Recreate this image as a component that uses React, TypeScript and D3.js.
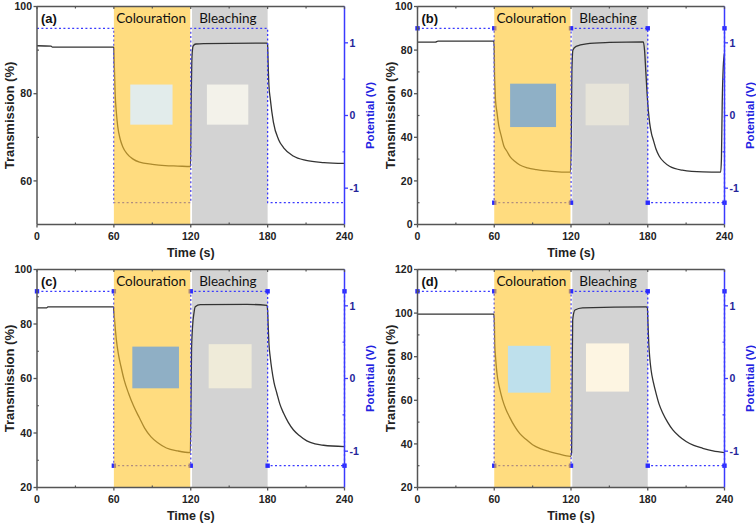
import React from 'react';
import * as d3 from 'd3';

// ---------- data ----------
const timeTicks = [0, 60, 120, 180, 240];
const timeMinor = [30, 90, 150, 210];
const potTicks = [-1, 0, 1];
const potTime = [0, 60, 60, 120, 120, 180, 180, 240, 240];
const potValue = [1.2, 1.2, -1.2, -1.2, 1.2, 1.2, -1.2, -1.2, 1.2];
const colourWindow = [60, 119.6];
const bleachWindow = [121, 180];
const phaseLabels = ['Colouration', 'Bleaching'];
const panelLabels = ['(a)', '(b)', '(c)', '(d)'];

const transA: [number, number][] = [
  [0, 91.0], [11, 90.9], [12, 90.7], [59.7, 90.7], [60, 90.5], [60.3, 87], [61, 80], [62, 75.5],
  [63, 72.5], [65, 69.5], [67, 67.8], [70, 66.3], [75, 65], [80, 64.3], [90, 63.8], [100, 63.5],
  [110, 63.4], [119.8, 63.3], [120.1, 70], [120.4, 80], [120.8, 87], [121.3, 90], [122, 91],
  [124, 91.4], [130, 91.5], [179.7, 91.6], [180, 91.2], [180.4, 87], [181, 82], [182, 79],
  [184.5, 73.5], [188.5, 69.5], [192.5, 67.6], [200, 65.7], [210, 64.7], [224, 64.2], [240, 64.0],
];
const transB: [number, number][] = [
  [0, 83.7], [14, 83.7], [16, 84.1], [59.6, 84.1], [60, 82], [60.2, 70], [60.6, 63], [61, 57],
  [62, 52], [63.5, 45.5], [65.5, 40.5], [67.5, 36], [70, 33.5], [72.5, 31], [76, 29], [80, 27.3],
  [86, 26], [93, 25.2], [105, 24.4], [119.5, 24.0], [120.2, 40], [120.7, 70], [121.5, 80],
  [124, 81.7], [132, 82.9], [150, 83.5], [176.5, 83.8], [177.5, 80], [178.5, 70], [179.5, 60],
  [180.5, 52], [181.5, 46.5], [183, 41.5], [184.5, 38.5], [186.5, 34.5], [189, 31.3], [193, 28.5],
  [197, 26.7], [207, 24.9], [223, 24.1], [237, 24.0], [237.6, 30], [238.2, 55], [239, 72], [240, 78.6],
];
const transC: [number, number][] = [
  [0, 85.9], [7.5, 85.9], [8.5, 86.3], [59.7, 86.3], [60, 85], [60.3, 83], [61, 79], [62, 74],
  [63.5, 69], [65.5, 64.5], [68, 59.5], [71.5, 54.5], [75.5, 49.8], [80, 45.5], [84, 41.8],
  [89, 38.6], [94, 36.5], [101, 34.5], [110, 33.4], [119.6, 32.8], [120.1, 45], [120.6, 70],
  [121.4, 79], [122.5, 84], [123.5, 86.3], [127.4, 87.1], [164, 87.2], [179.5, 86.8], [180, 85],
  [180.4, 80], [181, 73], [182, 68], [183.3, 63.2], [185, 58.5], [187.2, 54.6], [189.5, 50.7],
  [192.4, 47.3], [196, 44], [200.2, 41.1], [205, 39], [210.6, 37.1], [217, 36], [223.6, 35.5], [240, 35.0],
];
const transD: [number, number][] = [
  [0, 99.5], [59.7, 99.5], [60, 98], [60.15, 95], [60.4, 86], [61, 80], [62, 73], [64, 66],
  [66.5, 60.2], [69, 56], [72, 52.3], [76, 48], [80, 44.7], [85, 42], [90, 39.6], [96, 37.8],
  [103, 36.5], [110, 35.4], [119.5, 34.3], [120.5, 36], [120.9, 70], [121.3, 96.8], [123.1, 101.4],
  [129, 102.4], [178.7, 102.9], [179.7, 102.5], [180.2, 95], [180.8, 86.1], [181.5, 80],
  [182.6, 73.9], [184.5, 68], [186.5, 63.2], [189, 58], [191.8, 54.1], [195.5, 50], [199.6, 46.4],
  [204.5, 43.5], [210, 41.1], [216, 39.3], [223, 38], [231, 36.8], [240, 36],
];

const yDomains: [number, number][] = [[50, 100], [0, 100], [20, 100], [20, 120]];
const yTicksA = [60, 80, 100];
const yTicksB = [0, 20, 40, 60, 80, 100];
const yTicksC = [20, 40, 60, 80, 100];
const yTicksD = [20, 40, 60, 80, 100, 120];
const yMinorA = [50, 70, 90];
const yMinorB = [10, 30, 50, 70, 90];
const yMinorC = [30, 50, 70, 90];
const yMinorD = [30, 50, 70, 90, 110];

// inset photographs: [t0, t1, top value, bottom value]
const insetSpanA = [[72.8, 105.8, 82.1, 72.9], [132.6, 164.9, 82.1, 72.9]];
const insetSpanB = [[72.4, 108.3, 64.6, 44.7], [131.4, 165.3, 64.6, 45.5]];
const insetSpanC = [[74.4, 110.8, 71.7, 56.4], [134, 167.5, 72.6, 56.4]];
const insetSpanD = [[70.7, 104.1, 85, 63.5], [131.7, 165.4, 86.1, 64]];
const insetColours = [
  ['#E2ECEB', '#F3F2EA'],
  ['#8FB0C6', '#E7E4D9'],
  ['#8FAFC5', '#EFEBD9'],
  ['#BEE0EC', '#FDF5E2'],
];

// ---------- layout ----------
const boxes = [
  { l: 37, r: 344.5, t: 6.5, b: 224.5 },
  { l: 417.5, r: 724.5, t: 6.5, b: 224.5 },
  { l: 37, r: 344.5, t: 269.5, b: 487.5 },
  { l: 417.5, r: 724.5, t: 269.5, b: 487.5 },
];

const FONT = "'Liberation Sans', Arial, sans-serif";
const FRAME = '#555';
const BLUE = '#3a3aff';

type PanelProps = {
  idx: number;
  data: [number, number][];
  yTicks: number[];
  yMinor: number[];
  insets: number[][];
  markers: boolean;
};

function Panel({ idx, data, yTicks, yMinor, insets, markers }: PanelProps) {
  const box = boxes[idx];
  const x = d3.scaleLinear().domain([0, 240]).range([box.l, box.r]);
  const y = d3.scaleLinear().domain(yDomains[idx]).range([box.b, box.t]);
  const yp = d3.scaleLinear().domain([-1.5, 1.5]).range([box.b, box.t]);
  const line = d3.line<[number, number]>().x((d) => x(d[0])).y((d) => y(d[1])).curve(d3.curveMonotoneX);
  const pot: [number, number][] = potTime.map((t, i) => [t, potValue[i]]);
  const potLine = d3.line<[number, number]>().x((d) => x(d[0])).y((d) => yp(d[1]));
  const potDraw = markers ? pot : pot.slice(0, 8);
  const cx = (box.l + box.r) / 2;
  const cy = (box.t + box.b) / 2;

  return (
    <g>
      {/* bleaching region (under the lines) */}
      <rect x={x(bleachWindow[0])} y={box.t} width={x(bleachWindow[1]) - x(bleachWindow[0])} height={box.b - box.t} fill="#D3D3D3" />
      {/* transmission curve */}
      <path d={line(data) || ''} fill="none" stroke="#333" strokeWidth={1.3} />
      {/* potential */}
      <path d={potLine(potDraw) || ''} fill="none" stroke={BLUE} strokeWidth={1.3} strokeDasharray="2,2.4" />
      {markers && pot.map((d, i) => (
        <rect key={i} x={x(d[0]) - 2.2} y={yp(d[1]) - 2.2} width={4.4} height={4.4} fill="#2a2aff" />
      ))}
      {/* colouration region (translucent overlay) */}
      <rect x={x(colourWindow[0])} y={box.t} width={x(colourWindow[1]) - x(colourWindow[0])} height={box.b - box.t} fill="rgb(255,196,42)" fillOpacity={0.6} />
      {/* inset photos */}
      {insets.map((s, i) => (
        <rect key={i} x={x(s[0])} y={y(s[2])} width={x(s[1]) - x(s[0])} height={y(s[3]) - y(s[2])} fill={insetColours[idx][i]} />
      ))}
      {/* phase labels */}
      <text x={(x(colourWindow[0]) + x(colourWindow[1])) / 2 - 1} y={box.t + 16.5} textAnchor="middle" fontFamily="Lato, 'Open Sans', sans-serif" fontSize={13.5} fill="#111">{phaseLabels[0]}</text>
      <text x={(x(bleachWindow[0]) + x(bleachWindow[1])) / 2 - 2} y={box.t + 16.5} textAnchor="middle" fontFamily="Lato, 'Open Sans', sans-serif" fontSize={13.5} fill="#111">{phaseLabels[1]}</text>
      <text x={box.l + 4} y={box.t + 16.5} fontFamily={FONT} fontWeight="bold" fontSize={13} fill="#111">{panelLabels[idx]}</text>

      {/* frame */}
      <line x1={box.l} x2={box.r} y1={box.t} y2={box.t} stroke={FRAME} strokeWidth={1.5} />
      <line x1={box.l} x2={box.r} y1={box.b} y2={box.b} stroke={FRAME} strokeWidth={1.5} />
      <line x1={box.l} x2={box.l} y1={box.t} y2={box.b} stroke={FRAME} strokeWidth={1.5} />
      <line x1={box.r} x2={box.r} y1={box.t} y2={box.b} stroke={BLUE} strokeWidth={1.5} />

      {/* x ticks */}
      {timeTicks.map((t) => (
        <g key={'xt' + t}>
          <line x1={x(t)} x2={x(t)} y1={box.b} y2={box.b + 3} stroke={FRAME} strokeWidth={1.3} />
          <text x={x(t)} y={box.b + 15} textAnchor="middle" fontFamily={FONT} fontWeight="bold" fontSize={10.5} fill="#222">{t}</text>
        </g>
      ))}
      {timeMinor.map((t) => (
        <g key={'xm' + t}>
          <line x1={x(t)} x2={x(t)} y1={box.b} y2={box.b - 2} stroke={FRAME} strokeWidth={1.2} />
          <line x1={x(t)} x2={x(t)} y1={box.t} y2={box.t + 2} stroke={FRAME} strokeWidth={1.2} />
        </g>
      ))}
      {timeTicks.map((t) => (
        <line key={'xtt' + t} x1={x(t)} x2={x(t)} y1={box.t} y2={box.t + 2.5} stroke={FRAME} strokeWidth={1.2} />
      ))}
      {/* left y ticks */}
      {yTicks.map((v) => (
        <g key={'yt' + v}>
          <line x1={box.l - 3.5} x2={box.l} y1={y(v)} y2={y(v)} stroke={FRAME} strokeWidth={1.3} />
          <text x={box.l - 5} y={y(v) + 3.7} textAnchor="end" fontFamily={FONT} fontWeight="bold" fontSize={10.5} fill="#222">{v}</text>
        </g>
      ))}
      {yMinor.map((v) => (
        <line key={'ym' + v} x1={box.l} x2={box.l + 2} y1={y(v)} y2={y(v)} stroke={FRAME} strokeWidth={1.2} />
      ))}
      {/* right potential ticks */}
      {potTicks.map((v) => (
        <g key={'pt' + v}>
          <line x1={box.r} x2={box.r + 3.5} y1={yp(v)} y2={yp(v)} stroke={BLUE} strokeWidth={1.3} />
          <text x={box.r + 5} y={yp(v) + 3.7} textAnchor="start" fontFamily={FONT} fontWeight="bold" fontSize={10.5} fill="#24249a">{v === -1 ? '-1' : String(v)}</text>
        </g>
      ))}
      {[-0.5, 0.5].map((v) => (
        <line key={'pm' + v} x1={box.r} x2={box.r - 2} y1={yp(v)} y2={yp(v)} stroke={BLUE} strokeWidth={1.2} />
      ))}

      {/* axis titles */}
      <text x={cx} y={box.b + 32} textAnchor="middle" fontFamily={FONT} fontWeight="bold" fontSize={12.5} fill="#222">Time (s)</text>
      <text transform={`translate(${box.l - 23},${cy}) rotate(-90)`} textAnchor="middle" fontFamily={FONT} fontWeight="bold" fontSize={13} fill="#222">Transmission (%)</text>
      <text transform={`translate(${box.r + 29},${cy}) rotate(-90)`} textAnchor="middle" fontFamily={FONT} fontWeight="bold" fontSize={11.5} fill="#2222e0">Potential (V)</text>
    </g>
  );
}

export default function App() {
  return (
    <svg width={756} height={523} style={{ position: 'absolute', left: 0, top: 0, background: '#fff' }}>
      <rect x={0} y={0} width={756} height={523} fill="#fff" />
      <Panel idx={0} data={transA} yTicks={yTicksA} yMinor={yMinorA} insets={insetSpanA} markers={false} />
      <Panel idx={1} data={transB} yTicks={yTicksB} yMinor={yMinorB} insets={insetSpanB} markers={true} />
      <Panel idx={2} data={transC} yTicks={yTicksC} yMinor={yMinorC} insets={insetSpanC} markers={true} />
      <Panel idx={3} data={transD} yTicks={yTicksD} yMinor={yMinorD} insets={insetSpanD} markers={true} />
    </svg>
  );
}
